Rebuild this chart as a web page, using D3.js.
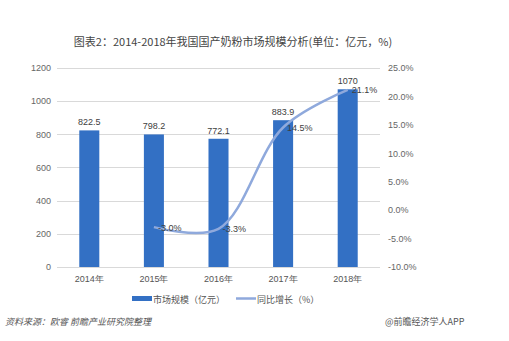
<!DOCTYPE html>
<html><head><meta charset="utf-8">
<script src="https://cdn.jsdelivr.net/npm/d3@7"></script>
<style>body{margin:0;background:#fff}svg{display:block;font-family:"Noto Sans CJK SC","Noto Sans",sans-serif}</style>
</head><body>
<script>
const categories = ["2014年","2015年","2016年","2017年","2018年"];
const marketSize = [822.5, 798.2, 772.1, 883.9, 1070];
const growth = [null, -3.0, -3.3, 14.5, 21.1];
const leftTicks = [0,200,400,600,800,1000,1200];
const rightTicks = [-10,-5,0,5,10,15,20,25];
const sizeLabels = ["822.5","798.2","772.1","883.9","1070"];
const growthLabels = [null,"-3.0%","-3.3%","14.5%","21.1%"];

const W=509,H=341;
const svg=d3.select("body").append("svg").attr("width",W).attr("height",H);
const x=d3.scaleBand().domain(categories).range([57,380]).paddingInner(0.69).paddingOuter(0.345);
const y=d3.scaleLinear().domain([0,1200]).range([267,67.7]);
const y2=d3.scaleLinear().domain([-10,25]).range([267,67.7]);

svg.append("text").attr("x",233).attr("y",46).attr("text-anchor","middle")
  .attr("font-size",11).attr("fill","#444").text("图表2：2014-2018年我国国产奶粉市场规模分析(单位：亿元，%)");

// grid
svg.append("g").selectAll("line").data(leftTicks).join("line")
  .attr("x1",57).attr("x2",380).attr("y1",d=>Math.round(y(d))+0.5).attr("y2",d=>Math.round(y(d))+0.5)
  .attr("stroke","#d9d9d9").attr("stroke-width",1);

// left axis
const la=svg.append("g").attr("transform","translate(51,0)").call(d3.axisLeft(y).tickValues(leftTicks).tickSize(0).tickPadding(0).tickFormat(d3.format("d")));
la.select(".domain").remove();
la.selectAll("text").attr("font-size",9).attr("fill","#666").attr("font-family","Liberation Sans, Arial, sans-serif");
// right axis
const ra=svg.append("g").attr("transform","translate(388,0)").call(d3.axisRight(y2).tickValues(rightTicks).tickSize(0).tickPadding(0).tickFormat(d=>d.toFixed(1)+"%"));
ra.select(".domain").remove();
ra.selectAll("text").attr("font-size",9).attr("fill","#666").attr("font-family","Liberation Sans, Arial, sans-serif");
// x axis
const xa=svg.append("g").attr("transform","translate(0,267)").call(d3.axisBottom(x).tickSize(0).tickPadding(9));
xa.select(".domain").remove();
xa.selectAll("text").attr("font-size",9).attr("fill","#555");

// bars
svg.append("g").selectAll("rect").data(marketSize).join("rect")
  .attr("x",(d,i)=>x(categories[i])).attr("width",x.bandwidth())
  .attr("y",d=>y(d)).attr("height",d=>y(0)-y(d)).attr("fill","#3370c4");
svg.append("g").selectAll("text").data(marketSize).join("text")
  .attr("x",(d,i)=>x(categories[i])+x.bandwidth()/2).attr("y",d=>y(d)-5)
  .attr("text-anchor","middle").attr("font-size",9).attr("fill","#404040")
  .attr("font-family","Liberation Sans, Arial, sans-serif").text((d,i)=>sizeLabels[i]);

// line
const pts=growth.map((g,i)=>({g,i})).filter(p=>p.g!==null);
const cx=i=>x(categories[i])+x.bandwidth()/2;
const line=d3.line().x(p=>cx(p.i)).y(p=>y2(p.g)).curve(d3.curveCatmullRom.alpha(0.5));
svg.append("path").datum(pts).attr("d",line).attr("fill","none").attr("stroke","#8fa9dc").attr("stroke-width",2.5);
svg.append("g").selectAll("text").data(pts).join("text")
  .attr("x",p=>cx(p.i)+4).attr("y",p=>y2(p.g)+3.5).attr("font-size",9).attr("fill","#404040")
  .attr("font-family","Liberation Sans, Arial, sans-serif").text(p=>growthLabels[p.i]);

// legend
svg.append("rect").attr("x",132).attr("y",296).attr("width",20).attr("height",5).attr("fill","#3370c4");
svg.append("text").attr("x",153).attr("y",302.5).attr("font-size",9).attr("fill","#555").text("市场规模（亿元）");
svg.append("line").attr("x1",236).attr("x2",256).attr("y1",298.5).attr("y2",298.5).attr("stroke","#8fa9dc").attr("stroke-width",2.5);
svg.append("text").attr("x",257).attr("y",302.5).attr("font-size",9).attr("fill","#555").text("同比增长（%）");

// footer
svg.append("text").attr("x",5).attr("y",325).attr("font-size",9).attr("font-style","italic").attr("fill","#555")
  .text("资料来源：欧睿 前瞻产业研究院整理");
svg.append("text").attr("x",385).attr("y",325).attr("font-size",9).attr("fill","#555").text("@前瞻经济学人APP");
</script>
</body></html>
